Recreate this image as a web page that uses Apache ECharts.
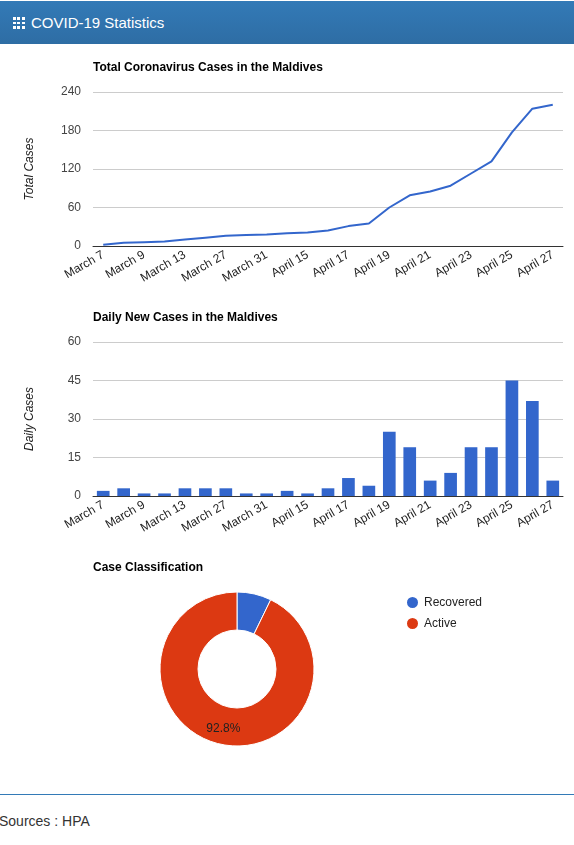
<!DOCTYPE html>
<html>
<head>
<meta charset="utf-8">
<script src="https://cdn.jsdelivr.net/npm/echarts@6/dist/echarts.min.js"></script>
<style>
body { margin: 0; font-family: "Liberation Sans", Arial, sans-serif; background: #fff; }
#head { position: absolute; left: 0; top: 1px; width: 574px; height: 43px; background: linear-gradient(#337ab7, #2e6da4); color: #fff; font-size: 15px; line-height: 43px; }
#head span.icon { display: inline-block; width: 12px; height: 12px; margin: 0 6px 0 13px; vertical-align: -1px;
  background: linear-gradient(90deg, #fff 3px, transparent 3px, transparent 4.5px, #fff 4.5px, #fff 7.5px, transparent 7.5px, transparent 9px, #fff 9px); }
#head span.icon::after { content: ""; display: block; width: 12px; height: 12px;
  background: linear-gradient(transparent 3px, #2f72ad 3px, #2f72ad 4.5px, transparent 4.5px, transparent 7.5px, #2f72ad 7.5px, #2f72ad 9px, transparent 9px); }
#chart { position: absolute; left: 0; top: 44px; width: 574px; height: 740px; }
#line { position: absolute; left: 0; top: 794px; width: 574px; height: 1px; background: #337ab7; }
#src { position: absolute; left: -1px; top: 813px; font-size: 14px; color: #333; }
</style>
</head>
<body>
<div id="head"><span class="icon"></span>COVID-19 Statistics</div>
<div id="chart"></div>
<div id="line"></div>
<div id="src">Sources : HPA</div>
<script>
var dates = ['March 7', 'March 8', 'March 9', 'March 12', 'March 13', 'March 17', 'March 27', 'March 28',
  'March 31', 'April 8', 'April 15', 'April 16', 'April 17', 'April 18', 'April 19', 'April 20',
  'April 21', 'April 22', 'April 23', 'April 24', 'April 25', 'April 26', 'April 27'];
var totalCases = [2, 5, 6, 7, 10, 13, 16, 17, 18, 20, 21, 24, 31, 35, 60, 79, 85, 94, 113, 132, 177, 214, 220];
var dailyCases = [2, 3, 1, 1, 3, 3, 3, 1, 1, 2, 1, 3, 7, 4, 25, 19, 6, 9, 19, 19, 45, 37, 6];
var classNames = ['Recovered', 'Active'];
var classValues = [16, 206];

var font = 'Liberation Sans';
var chart = echarts.init(document.getElementById('chart'));
function xAxis(i) {
  return {
    type: 'category', gridIndex: i, data: dates, boundaryGap: true,
    axisLine: { lineStyle: { color: '#333' } }, axisTick: { show: false },
    axisLabel: { interval: 1, rotate: 30, color: '#222', fontSize: 12, fontFamily: font, margin: 8 }
  };
}
function yAxis(i, name, max, step) {
  return {
    type: 'value', gridIndex: i, min: 0, max: max, interval: step, name: name,
    nameLocation: 'middle', nameGap: 57, nameRotate: 90,
    nameTextStyle: { fontStyle: 'italic', color: '#222', fontSize: 12, fontFamily: font },
    axisLine: { show: false }, axisTick: { show: false },
    axisLabel: { color: '#444', fontSize: 12, fontFamily: font, margin: 12 },
    splitLine: { lineStyle: { color: '#ccc' } }
  };
}
var titleStyle = { fontSize: 12, fontWeight: 'bold', color: '#000', fontFamily: font };
chart.setOption({
  animation: false,
  color: ['#3366cc', '#dc3912'],
  title: [
    { text: 'Total Coronavirus Cases in the Maldives', left: 93, top: 18, textStyle: titleStyle, padding: 0 },
    { text: 'Daily New Cases in the Maldives', left: 93, top: 268, textStyle: titleStyle, padding: 0 },
    { text: 'Case Classification', left: 93, top: 518, textStyle: titleStyle, padding: 0 }
  ],
  grid: [
    { left: 93, right: 11, top: 48, height: 154 },
    { left: 93, right: 11, top: 298, height: 154 }
  ],
  xAxis: [xAxis(0), xAxis(1)],
  yAxis: [yAxis(0, 'Total Cases', 240, 60), yAxis(1, 'Daily Cases', 60, 15)],
  legend: {
    orient: 'vertical', left: 400, top: 546, itemWidth: 13, itemHeight: 13, itemGap: 6,
    icon: 'circle', data: classNames,
    textStyle: { color: '#222', fontSize: 12, fontFamily: font }
  },
  series: [
    { type: 'line', xAxisIndex: 0, yAxisIndex: 0, data: totalCases, showSymbol: false,
      lineStyle: { width: 2 }, itemStyle: { color: '#3366cc' } },
    { type: 'bar', xAxisIndex: 1, yAxisIndex: 1, data: dailyCases, barCategoryGap: '38%',
      itemStyle: { color: '#3366cc' } },
    { type: 'pie', center: [237, 625], radius: [39, 77], startAngle: 90, clockwise: true,
      itemStyle: { borderColor: '#fff', borderWidth: 1 },
      label: { show: true, position: 'inside', formatter: function (p) {
        return p.percent > 10 ? p.percent.toFixed(1) + '%' : ''; },
        color: '#222', fontSize: 12, fontFamily: font },
      labelLine: { show: false },
      data: classNames.map(function (n, i) { return { name: n, value: classValues[i] }; })
    }
  ]
});
</script>
</body>
</html>
